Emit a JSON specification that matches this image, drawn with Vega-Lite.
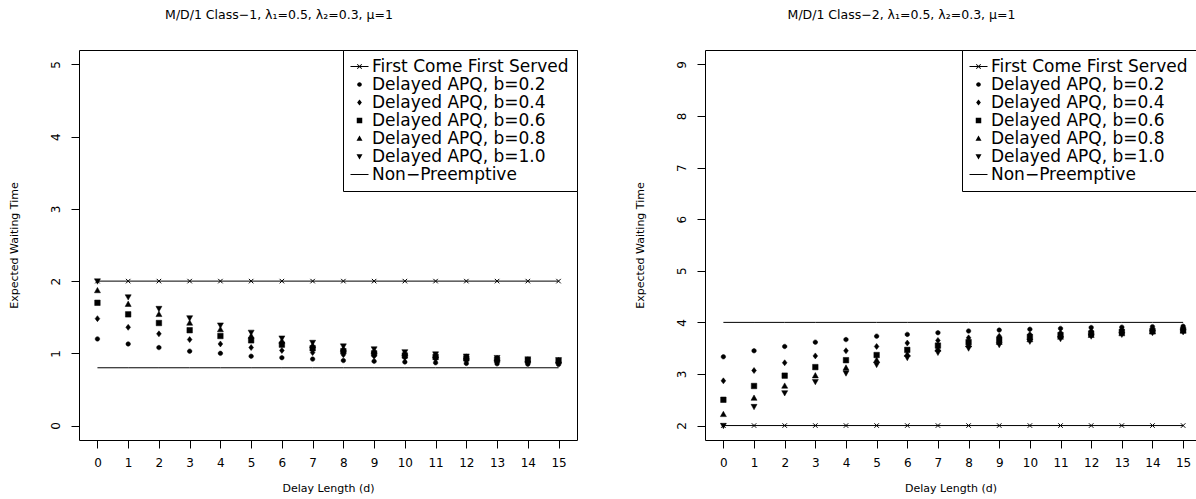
{
  "$schema": "https://vega.github.io/schema/vega-lite/v6.json",
  "padding": {"left": 7, "top": 8, "right": 0, "bottom": 0},
  "background": "white",
  "bounds": "flush",
  "spacing": 128,
  "resolve": {"scale": {"shape": "independent", "x": "independent", "y": "independent"}, "legend": {"shape": "independent"}},
  "config": {
    "view": {"stroke": "black", "strokeWidth": 1},
    "font": "DejaVu Sans",
    "axis": {"domain": false, "grid": false, "tickColor": "black", "tickSize": 8, "tickWidth": 1,
      "labelFont": "DejaVu Sans", "labelFontSize": 12, "labelColor": "black",
      "titleFont": "DejaVu Sans", "titleFontSize": 11, "titleFontWeight": "normal", "titleColor": "black"},
    "axisBottom": {"labelPadding": 9, "titlePadding": 14},
    "axisLeft": {"labelAngle": -90, "labelAlign": "center", "labelBaseline": "bottom", "labelPadding": 9, "titlePadding": 30},
    "title": {"font": "DejaVu Sans", "fontSize": 12.5, "fontWeight": "normal", "color": "black", "baseline": "alphabetic", "offset": 28, "dx": -49},
    "legend": {"orient": "top-right", "offset": 0, "padding": 8, "strokeColor": "black", "fillColor": "white",
      "labelFont": "DejaVu Sans", "labelFontSize": 17, "labelColor": "black", "labelLimit": 400, "labelOffset": 4,
      "symbolSize": 100, "rowPadding": 0, "symbolFillColor": "black", "symbolStrokeColor": "black", "symbolStrokeWidth": 0.5}
  },
  "datasets": {
    "waits": [
      {"panel": 1, "series": "First Come First Served", "d": 0, "value": 2}, {"panel": 1, "series": "First Come First Served", "d": 1, "value": 2}, {"panel": 1, "series": "First Come First Served", "d": 2, "value": 2}, {"panel": 1, "series": "First Come First Served", "d": 3, "value": 2}, {"panel": 1, "series": "First Come First Served", "d": 4, "value": 2}, {"panel": 1, "series": "First Come First Served", "d": 5, "value": 2}, {"panel": 1, "series": "First Come First Served", "d": 6, "value": 2}, {"panel": 1, "series": "First Come First Served", "d": 7, "value": 2}, {"panel": 1, "series": "First Come First Served", "d": 8, "value": 2}, {"panel": 1, "series": "First Come First Served", "d": 9, "value": 2}, {"panel": 1, "series": "First Come First Served", "d": 10, "value": 2}, {"panel": 1, "series": "First Come First Served", "d": 11, "value": 2}, {"panel": 1, "series": "First Come First Served", "d": 12, "value": 2}, {"panel": 1, "series": "First Come First Served", "d": 13, "value": 2}, {"panel": 1, "series": "First Come First Served", "d": 14, "value": 2}, {"panel": 1, "series": "First Come First Served", "d": 15, "value": 2},
      {"panel": 1, "series": "Non−Preemptive", "d": 0, "value": 0.8}, {"panel": 1, "series": "Non−Preemptive", "d": 1, "value": 0.8}, {"panel": 1, "series": "Non−Preemptive", "d": 2, "value": 0.8}, {"panel": 1, "series": "Non−Preemptive", "d": 3, "value": 0.8}, {"panel": 1, "series": "Non−Preemptive", "d": 4, "value": 0.8}, {"panel": 1, "series": "Non−Preemptive", "d": 5, "value": 0.8}, {"panel": 1, "series": "Non−Preemptive", "d": 6, "value": 0.8}, {"panel": 1, "series": "Non−Preemptive", "d": 7, "value": 0.8}, {"panel": 1, "series": "Non−Preemptive", "d": 8, "value": 0.8}, {"panel": 1, "series": "Non−Preemptive", "d": 9, "value": 0.8}, {"panel": 1, "series": "Non−Preemptive", "d": 10, "value": 0.8}, {"panel": 1, "series": "Non−Preemptive", "d": 11, "value": 0.8}, {"panel": 1, "series": "Non−Preemptive", "d": 12, "value": 0.8}, {"panel": 1, "series": "Non−Preemptive", "d": 13, "value": 0.8}, {"panel": 1, "series": "Non−Preemptive", "d": 14, "value": 0.8}, {"panel": 1, "series": "Non−Preemptive", "d": 15, "value": 0.8},
      {"panel": 1, "series": "Delayed APQ, b=0.2", "d": 0, "value": 1.2}, {"panel": 1, "series": "Delayed APQ, b=0.2", "d": 1, "value": 1.13}, {"panel": 1, "series": "Delayed APQ, b=0.2", "d": 2, "value": 1.08}, {"panel": 1, "series": "Delayed APQ, b=0.2", "d": 3, "value": 1.03}, {"panel": 1, "series": "Delayed APQ, b=0.2", "d": 4, "value": 1.0}, {"panel": 1, "series": "Delayed APQ, b=0.2", "d": 5, "value": 0.96}, {"panel": 1, "series": "Delayed APQ, b=0.2", "d": 6, "value": 0.94}, {"panel": 1, "series": "Delayed APQ, b=0.2", "d": 7, "value": 0.92}, {"panel": 1, "series": "Delayed APQ, b=0.2", "d": 8, "value": 0.9}, {"panel": 1, "series": "Delayed APQ, b=0.2", "d": 9, "value": 0.89}, {"panel": 1, "series": "Delayed APQ, b=0.2", "d": 10, "value": 0.88}, {"panel": 1, "series": "Delayed APQ, b=0.2", "d": 11, "value": 0.87}, {"panel": 1, "series": "Delayed APQ, b=0.2", "d": 12, "value": 0.86}, {"panel": 1, "series": "Delayed APQ, b=0.2", "d": 13, "value": 0.855}, {"panel": 1, "series": "Delayed APQ, b=0.2", "d": 14, "value": 0.85}, {"panel": 1, "series": "Delayed APQ, b=0.2", "d": 15, "value": 0.845},
      {"panel": 1, "series": "Delayed APQ, b=0.4", "d": 0, "value": 1.48}, {"panel": 1, "series": "Delayed APQ, b=0.4", "d": 1, "value": 1.36}, {"panel": 1, "series": "Delayed APQ, b=0.4", "d": 2, "value": 1.27}, {"panel": 1, "series": "Delayed APQ, b=0.4", "d": 3, "value": 1.19}, {"panel": 1, "series": "Delayed APQ, b=0.4", "d": 4, "value": 1.13}, {"panel": 1, "series": "Delayed APQ, b=0.4", "d": 5, "value": 1.08}, {"panel": 1, "series": "Delayed APQ, b=0.4", "d": 6, "value": 1.04}, {"panel": 1, "series": "Delayed APQ, b=0.4", "d": 7, "value": 1.01}, {"panel": 1, "series": "Delayed APQ, b=0.4", "d": 8, "value": 0.98}, {"panel": 1, "series": "Delayed APQ, b=0.4", "d": 9, "value": 0.96}, {"panel": 1, "series": "Delayed APQ, b=0.4", "d": 10, "value": 0.94}, {"panel": 1, "series": "Delayed APQ, b=0.4", "d": 11, "value": 0.92}, {"panel": 1, "series": "Delayed APQ, b=0.4", "d": 12, "value": 0.9}, {"panel": 1, "series": "Delayed APQ, b=0.4", "d": 13, "value": 0.89}, {"panel": 1, "series": "Delayed APQ, b=0.4", "d": 14, "value": 0.88}, {"panel": 1, "series": "Delayed APQ, b=0.4", "d": 15, "value": 0.87},
      {"panel": 1, "series": "Delayed APQ, b=0.6", "d": 0, "value": 1.7}, {"panel": 1, "series": "Delayed APQ, b=0.6", "d": 1, "value": 1.54}, {"panel": 1, "series": "Delayed APQ, b=0.6", "d": 2, "value": 1.42}, {"panel": 1, "series": "Delayed APQ, b=0.6", "d": 3, "value": 1.32}, {"panel": 1, "series": "Delayed APQ, b=0.6", "d": 4, "value": 1.24}, {"panel": 1, "series": "Delayed APQ, b=0.6", "d": 5, "value": 1.18}, {"panel": 1, "series": "Delayed APQ, b=0.6", "d": 6, "value": 1.12}, {"panel": 1, "series": "Delayed APQ, b=0.6", "d": 7, "value": 1.07}, {"panel": 1, "series": "Delayed APQ, b=0.6", "d": 8, "value": 1.03}, {"panel": 1, "series": "Delayed APQ, b=0.6", "d": 9, "value": 1.0}, {"panel": 1, "series": "Delayed APQ, b=0.6", "d": 10, "value": 0.97}, {"panel": 1, "series": "Delayed APQ, b=0.6", "d": 11, "value": 0.95}, {"panel": 1, "series": "Delayed APQ, b=0.6", "d": 12, "value": 0.93}, {"panel": 1, "series": "Delayed APQ, b=0.6", "d": 13, "value": 0.91}, {"panel": 1, "series": "Delayed APQ, b=0.6", "d": 14, "value": 0.9}, {"panel": 1, "series": "Delayed APQ, b=0.6", "d": 15, "value": 0.89},
      {"panel": 1, "series": "Delayed APQ, b=0.8", "d": 0, "value": 1.87}, {"panel": 1, "series": "Delayed APQ, b=0.8", "d": 1, "value": 1.68}, {"panel": 1, "series": "Delayed APQ, b=0.8", "d": 2, "value": 1.54}, {"panel": 1, "series": "Delayed APQ, b=0.8", "d": 3, "value": 1.42}, {"panel": 1, "series": "Delayed APQ, b=0.8", "d": 4, "value": 1.33}, {"panel": 1, "series": "Delayed APQ, b=0.8", "d": 5, "value": 1.24}, {"panel": 1, "series": "Delayed APQ, b=0.8", "d": 6, "value": 1.17}, {"panel": 1, "series": "Delayed APQ, b=0.8", "d": 7, "value": 1.11}, {"panel": 1, "series": "Delayed APQ, b=0.8", "d": 8, "value": 1.06}, {"panel": 1, "series": "Delayed APQ, b=0.8", "d": 9, "value": 1.03}, {"panel": 1, "series": "Delayed APQ, b=0.8", "d": 10, "value": 1.0}, {"panel": 1, "series": "Delayed APQ, b=0.8", "d": 11, "value": 0.97}, {"panel": 1, "series": "Delayed APQ, b=0.8", "d": 12, "value": 0.95}, {"panel": 1, "series": "Delayed APQ, b=0.8", "d": 13, "value": 0.93}, {"panel": 1, "series": "Delayed APQ, b=0.8", "d": 14, "value": 0.91}, {"panel": 1, "series": "Delayed APQ, b=0.8", "d": 15, "value": 0.9},
      {"panel": 1, "series": "Delayed APQ, b=1.0", "d": 0, "value": 2.0}, {"panel": 1, "series": "Delayed APQ, b=1.0", "d": 1, "value": 1.78}, {"panel": 1, "series": "Delayed APQ, b=1.0", "d": 2, "value": 1.62}, {"panel": 1, "series": "Delayed APQ, b=1.0", "d": 3, "value": 1.49}, {"panel": 1, "series": "Delayed APQ, b=1.0", "d": 4, "value": 1.39}, {"panel": 1, "series": "Delayed APQ, b=1.0", "d": 5, "value": 1.29}, {"panel": 1, "series": "Delayed APQ, b=1.0", "d": 6, "value": 1.21}, {"panel": 1, "series": "Delayed APQ, b=1.0", "d": 7, "value": 1.15}, {"panel": 1, "series": "Delayed APQ, b=1.0", "d": 8, "value": 1.1}, {"panel": 1, "series": "Delayed APQ, b=1.0", "d": 9, "value": 1.06}, {"panel": 1, "series": "Delayed APQ, b=1.0", "d": 10, "value": 1.02}, {"panel": 1, "series": "Delayed APQ, b=1.0", "d": 11, "value": 0.99}, {"panel": 1, "series": "Delayed APQ, b=1.0", "d": 12, "value": 0.96}, {"panel": 1, "series": "Delayed APQ, b=1.0", "d": 13, "value": 0.94}, {"panel": 1, "series": "Delayed APQ, b=1.0", "d": 14, "value": 0.92}, {"panel": 1, "series": "Delayed APQ, b=1.0", "d": 15, "value": 0.91},
      {"panel": 2, "series": "First Come First Served", "d": 0, "value": 2}, {"panel": 2, "series": "First Come First Served", "d": 1, "value": 2}, {"panel": 2, "series": "First Come First Served", "d": 2, "value": 2}, {"panel": 2, "series": "First Come First Served", "d": 3, "value": 2}, {"panel": 2, "series": "First Come First Served", "d": 4, "value": 2}, {"panel": 2, "series": "First Come First Served", "d": 5, "value": 2}, {"panel": 2, "series": "First Come First Served", "d": 6, "value": 2}, {"panel": 2, "series": "First Come First Served", "d": 7, "value": 2}, {"panel": 2, "series": "First Come First Served", "d": 8, "value": 2}, {"panel": 2, "series": "First Come First Served", "d": 9, "value": 2}, {"panel": 2, "series": "First Come First Served", "d": 10, "value": 2}, {"panel": 2, "series": "First Come First Served", "d": 11, "value": 2}, {"panel": 2, "series": "First Come First Served", "d": 12, "value": 2}, {"panel": 2, "series": "First Come First Served", "d": 13, "value": 2}, {"panel": 2, "series": "First Come First Served", "d": 14, "value": 2}, {"panel": 2, "series": "First Come First Served", "d": 15, "value": 2},
      {"panel": 2, "series": "Non−Preemptive", "d": 0, "value": 4}, {"panel": 2, "series": "Non−Preemptive", "d": 1, "value": 4}, {"panel": 2, "series": "Non−Preemptive", "d": 2, "value": 4}, {"panel": 2, "series": "Non−Preemptive", "d": 3, "value": 4}, {"panel": 2, "series": "Non−Preemptive", "d": 4, "value": 4}, {"panel": 2, "series": "Non−Preemptive", "d": 5, "value": 4}, {"panel": 2, "series": "Non−Preemptive", "d": 6, "value": 4}, {"panel": 2, "series": "Non−Preemptive", "d": 7, "value": 4}, {"panel": 2, "series": "Non−Preemptive", "d": 8, "value": 4}, {"panel": 2, "series": "Non−Preemptive", "d": 9, "value": 4}, {"panel": 2, "series": "Non−Preemptive", "d": 10, "value": 4}, {"panel": 2, "series": "Non−Preemptive", "d": 11, "value": 4}, {"panel": 2, "series": "Non−Preemptive", "d": 12, "value": 4}, {"panel": 2, "series": "Non−Preemptive", "d": 13, "value": 4}, {"panel": 2, "series": "Non−Preemptive", "d": 14, "value": 4}, {"panel": 2, "series": "Non−Preemptive", "d": 15, "value": 4},
      {"panel": 2, "series": "Delayed APQ, b=0.2", "d": 0, "value": 3.333}, {"panel": 2, "series": "Delayed APQ, b=0.2", "d": 1, "value": 3.45}, {"panel": 2, "series": "Delayed APQ, b=0.2", "d": 2, "value": 3.533}, {"panel": 2, "series": "Delayed APQ, b=0.2", "d": 3, "value": 3.617}, {"panel": 2, "series": "Delayed APQ, b=0.2", "d": 4, "value": 3.667}, {"panel": 2, "series": "Delayed APQ, b=0.2", "d": 5, "value": 3.733}, {"panel": 2, "series": "Delayed APQ, b=0.2", "d": 6, "value": 3.767}, {"panel": 2, "series": "Delayed APQ, b=0.2", "d": 7, "value": 3.8}, {"panel": 2, "series": "Delayed APQ, b=0.2", "d": 8, "value": 3.833}, {"panel": 2, "series": "Delayed APQ, b=0.2", "d": 9, "value": 3.85}, {"panel": 2, "series": "Delayed APQ, b=0.2", "d": 10, "value": 3.867}, {"panel": 2, "series": "Delayed APQ, b=0.2", "d": 11, "value": 3.883}, {"panel": 2, "series": "Delayed APQ, b=0.2", "d": 12, "value": 3.9}, {"panel": 2, "series": "Delayed APQ, b=0.2", "d": 13, "value": 3.908}, {"panel": 2, "series": "Delayed APQ, b=0.2", "d": 14, "value": 3.917}, {"panel": 2, "series": "Delayed APQ, b=0.2", "d": 15, "value": 3.925},
      {"panel": 2, "series": "Delayed APQ, b=0.4", "d": 0, "value": 2.867}, {"panel": 2, "series": "Delayed APQ, b=0.4", "d": 1, "value": 3.067}, {"panel": 2, "series": "Delayed APQ, b=0.4", "d": 2, "value": 3.217}, {"panel": 2, "series": "Delayed APQ, b=0.4", "d": 3, "value": 3.35}, {"panel": 2, "series": "Delayed APQ, b=0.4", "d": 4, "value": 3.45}, {"panel": 2, "series": "Delayed APQ, b=0.4", "d": 5, "value": 3.533}, {"panel": 2, "series": "Delayed APQ, b=0.4", "d": 6, "value": 3.6}, {"panel": 2, "series": "Delayed APQ, b=0.4", "d": 7, "value": 3.65}, {"panel": 2, "series": "Delayed APQ, b=0.4", "d": 8, "value": 3.7}, {"panel": 2, "series": "Delayed APQ, b=0.4", "d": 9, "value": 3.733}, {"panel": 2, "series": "Delayed APQ, b=0.4", "d": 10, "value": 3.767}, {"panel": 2, "series": "Delayed APQ, b=0.4", "d": 11, "value": 3.8}, {"panel": 2, "series": "Delayed APQ, b=0.4", "d": 12, "value": 3.833}, {"panel": 2, "series": "Delayed APQ, b=0.4", "d": 13, "value": 3.85}, {"panel": 2, "series": "Delayed APQ, b=0.4", "d": 14, "value": 3.867}, {"panel": 2, "series": "Delayed APQ, b=0.4", "d": 15, "value": 3.883},
      {"panel": 2, "series": "Delayed APQ, b=0.6", "d": 0, "value": 2.5}, {"panel": 2, "series": "Delayed APQ, b=0.6", "d": 1, "value": 2.767}, {"panel": 2, "series": "Delayed APQ, b=0.6", "d": 2, "value": 2.967}, {"panel": 2, "series": "Delayed APQ, b=0.6", "d": 3, "value": 3.133}, {"panel": 2, "series": "Delayed APQ, b=0.6", "d": 4, "value": 3.267}, {"panel": 2, "series": "Delayed APQ, b=0.6", "d": 5, "value": 3.367}, {"panel": 2, "series": "Delayed APQ, b=0.6", "d": 6, "value": 3.467}, {"panel": 2, "series": "Delayed APQ, b=0.6", "d": 7, "value": 3.55}, {"panel": 2, "series": "Delayed APQ, b=0.6", "d": 8, "value": 3.617}, {"panel": 2, "series": "Delayed APQ, b=0.6", "d": 9, "value": 3.667}, {"panel": 2, "series": "Delayed APQ, b=0.6", "d": 10, "value": 3.717}, {"panel": 2, "series": "Delayed APQ, b=0.6", "d": 11, "value": 3.75}, {"panel": 2, "series": "Delayed APQ, b=0.6", "d": 12, "value": 3.783}, {"panel": 2, "series": "Delayed APQ, b=0.6", "d": 13, "value": 3.817}, {"panel": 2, "series": "Delayed APQ, b=0.6", "d": 14, "value": 3.833}, {"panel": 2, "series": "Delayed APQ, b=0.6", "d": 15, "value": 3.85},
      {"panel": 2, "series": "Delayed APQ, b=0.8", "d": 0, "value": 2.217}, {"panel": 2, "series": "Delayed APQ, b=0.8", "d": 1, "value": 2.533}, {"panel": 2, "series": "Delayed APQ, b=0.8", "d": 2, "value": 2.767}, {"panel": 2, "series": "Delayed APQ, b=0.8", "d": 3, "value": 2.967}, {"panel": 2, "series": "Delayed APQ, b=0.8", "d": 4, "value": 3.117}, {"panel": 2, "series": "Delayed APQ, b=0.8", "d": 5, "value": 3.267}, {"panel": 2, "series": "Delayed APQ, b=0.8", "d": 6, "value": 3.383}, {"panel": 2, "series": "Delayed APQ, b=0.8", "d": 7, "value": 3.483}, {"panel": 2, "series": "Delayed APQ, b=0.8", "d": 8, "value": 3.567}, {"panel": 2, "series": "Delayed APQ, b=0.8", "d": 9, "value": 3.617}, {"panel": 2, "series": "Delayed APQ, b=0.8", "d": 10, "value": 3.667}, {"panel": 2, "series": "Delayed APQ, b=0.8", "d": 11, "value": 3.717}, {"panel": 2, "series": "Delayed APQ, b=0.8", "d": 12, "value": 3.75}, {"panel": 2, "series": "Delayed APQ, b=0.8", "d": 13, "value": 3.783}, {"panel": 2, "series": "Delayed APQ, b=0.8", "d": 14, "value": 3.817}, {"panel": 2, "series": "Delayed APQ, b=0.8", "d": 15, "value": 3.833},
      {"panel": 2, "series": "Delayed APQ, b=1.0", "d": 0, "value": 2.0}, {"panel": 2, "series": "Delayed APQ, b=1.0", "d": 1, "value": 2.367}, {"panel": 2, "series": "Delayed APQ, b=1.0", "d": 2, "value": 2.633}, {"panel": 2, "series": "Delayed APQ, b=1.0", "d": 3, "value": 2.85}, {"panel": 2, "series": "Delayed APQ, b=1.0", "d": 4, "value": 3.017}, {"panel": 2, "series": "Delayed APQ, b=1.0", "d": 5, "value": 3.183}, {"panel": 2, "series": "Delayed APQ, b=1.0", "d": 6, "value": 3.317}, {"panel": 2, "series": "Delayed APQ, b=1.0", "d": 7, "value": 3.417}, {"panel": 2, "series": "Delayed APQ, b=1.0", "d": 8, "value": 3.5}, {"panel": 2, "series": "Delayed APQ, b=1.0", "d": 9, "value": 3.567}, {"panel": 2, "series": "Delayed APQ, b=1.0", "d": 10, "value": 3.633}, {"panel": 2, "series": "Delayed APQ, b=1.0", "d": 11, "value": 3.683}, {"panel": 2, "series": "Delayed APQ, b=1.0", "d": 12, "value": 3.733}, {"panel": 2, "series": "Delayed APQ, b=1.0", "d": 13, "value": 3.767}, {"panel": 2, "series": "Delayed APQ, b=1.0", "d": 14, "value": 3.8}, {"panel": 2, "series": "Delayed APQ, b=1.0", "d": 15, "value": 3.817}
    ]
  },
  "hconcat": [
    {
      "width": 498, "height": 390,
      "title": {"text": "M/D/1 Class−1, λ₁=0.5, λ₂=0.3, μ=1"},
      "data": {"name": "waits"},
      "transform": [{"filter": "datum.panel == 1"}],
      "encoding": {
        "x": {"field": "d", "type": "quantitative", "scale": {"domain": [-0.6, 15.6], "nice": false, "zero": false},
          "axis": {"values": [0,1,2,3,4,5,6,7,8,9,10,11,12,13,14,15], "title": "Delay Length (d)"}},
        "y": {"field": "value", "type": "quantitative", "scale": {"domain": [-0.2, 5.2], "nice": false, "zero": false},
          "axis": {"values": [0,1,2,3,4,5], "title": "Expected Waiting Time"}}
      },
      "layer": [
        {"transform": [{"filter": "datum.series == 'First Come First Served' || datum.series == 'Non−Preemptive'"}],
         "mark": {"type": "line", "color": "black", "strokeWidth": 1},
         "encoding": {"detail": {"field": "series"}}},
        {"transform": [{"filter": "datum.series == 'First Come First Served'"}],
         "mark": {"type": "point", "shape": "M-0.45,-0.45L0.45,0.45M-0.45,0.45L0.45,-0.45", "filled": false, "stroke": "black", "strokeWidth": 1, "size": 100, "opacity": 1}},
        {"transform": [{"filter": "indexof(datum.series, 'APQ') >= 0"}],
         "mark": {"type": "point", "filled": false, "fill": "black", "stroke": "black", "strokeWidth": 0.5, "size": 100, "opacity": 1},
         "encoding": {"shape": {"field": "series", "type": "nominal",
           "scale": {"domain": ["First Come First Served", "Delayed APQ, b=0.2", "Delayed APQ, b=0.4", "Delayed APQ, b=0.6", "Delayed APQ, b=0.8", "Delayed APQ, b=1.0", "Non−Preemptive"],
             "range": ["M-1.8,-0.1L1.8,-0.1L1.8,0.1L-1.8,0.1ZM-0.38,-0.52L0.52,0.38L0.38,0.52L-0.52,-0.38ZM-0.52,0.38L0.38,-0.52L0.52,-0.38L-0.38,0.52Z", "M-0.45,0A0.45,0.45,0,1,0,0.45,0A0.45,0.45,0,1,0,-0.45,0Z", "M0,-0.6L0.47,0L0,0.6L-0.47,0Z", "M-0.55,-0.55H0.55V0.55H-0.55Z", "M0,-0.62L0.6,0.45L-0.6,0.45Z", "M0,0.62L0.6,-0.45L-0.6,-0.45Z", "M-1.8,-0.1L1.8,-0.1L1.8,0.1L-1.8,0.1Z"]},
           "legend": {"title": null}}}}
      ]
    },
    {
      "width": 491, "height": 390,
      "title": {"text": "M/D/1 Class−2, λ₁=0.5, λ₂=0.3, μ=1"},
      "data": {"name": "waits"},
      "transform": [{"filter": "datum.panel == 2"}],
      "encoding": {
        "x": {"field": "d", "type": "quantitative", "scale": {"domain": [-0.6, 15.42], "nice": false, "zero": false},
          "axis": {"values": [0,1,2,3,4,5,6,7,8,9,10,11,12,13,14,15], "title": "Delay Length (d)"}},
        "y": {"field": "value", "type": "quantitative", "scale": {"domain": [1.72, 9.28], "nice": false, "zero": false},
          "axis": {"values": [2,3,4,5,6,7,8,9], "title": "Expected Waiting Time"}}
      },
      "layer": [
        {"transform": [{"filter": "datum.series == 'First Come First Served' || datum.series == 'Non−Preemptive'"}],
         "mark": {"type": "line", "color": "black", "strokeWidth": 1},
         "encoding": {"detail": {"field": "series"}}},
        {"transform": [{"filter": "datum.series == 'First Come First Served'"}],
         "mark": {"type": "point", "shape": "M-0.45,-0.45L0.45,0.45M-0.45,0.45L0.45,-0.45", "filled": false, "stroke": "black", "strokeWidth": 1, "size": 100, "opacity": 1}},
        {"transform": [{"filter": "indexof(datum.series, 'APQ') >= 0"}],
         "mark": {"type": "point", "filled": false, "fill": "black", "stroke": "black", "strokeWidth": 0.5, "size": 100, "opacity": 1},
         "encoding": {"shape": {"field": "series", "type": "nominal",
           "scale": {"domain": ["First Come First Served", "Delayed APQ, b=0.2", "Delayed APQ, b=0.4", "Delayed APQ, b=0.6", "Delayed APQ, b=0.8", "Delayed APQ, b=1.0", "Non−Preemptive"],
             "range": ["M-1.8,-0.1L1.8,-0.1L1.8,0.1L-1.8,0.1ZM-0.38,-0.52L0.52,0.38L0.38,0.52L-0.52,-0.38ZM-0.52,0.38L0.38,-0.52L0.52,-0.38L-0.38,0.52Z", "M-0.45,0A0.45,0.45,0,1,0,0.45,0A0.45,0.45,0,1,0,-0.45,0Z", "M0,-0.6L0.47,0L0,0.6L-0.47,0Z", "M-0.55,-0.55H0.55V0.55H-0.55Z", "M0,-0.62L0.6,0.45L-0.6,0.45Z", "M0,0.62L0.6,-0.45L-0.6,-0.45Z", "M-1.8,-0.1L1.8,-0.1L1.8,0.1L-1.8,0.1Z"]},
           "legend": {"title": null}}}}
      ]
    }
  ]
}
